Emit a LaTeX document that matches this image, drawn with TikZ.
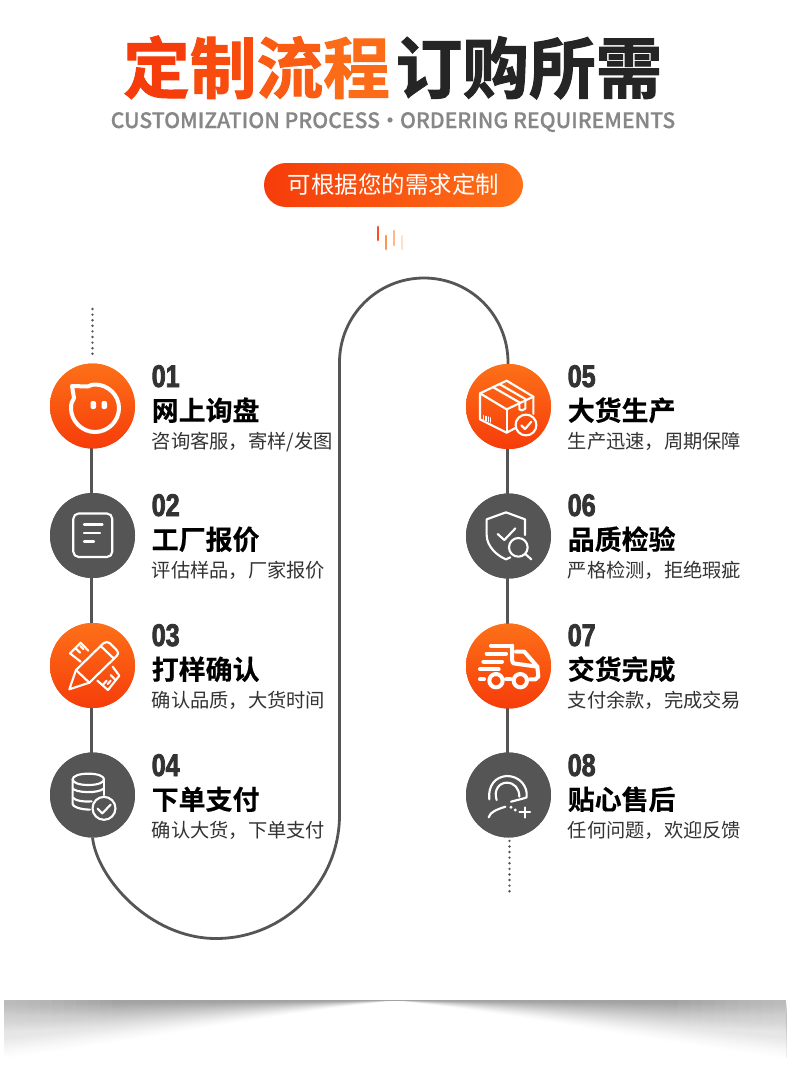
\documentclass[tikz,border=0pt]{standalone}
\usepackage{fontspec}
\setmainfont{Noto Sans CJK SC}
\newfontfamily\cjk{Noto Sans CJK SC}
\newfontfamily\cjktitle[FakeBold=1.5]{Noto Sans CJK SC Bold}
\newfontfamily\cjkhead[FakeBold=0.4]{Noto Sans CJK SC Bold}
\newfontfamily\subf[FakeBold=0.5]{Noto Sans CJK SC Medium}
\newfontfamily\numf[FakeStretch=0.8,FakeBold=2.5]{Liberation Sans Bold}
\definecolor{ordark}{HTML}{F63C0A}
\definecolor{orlight}{HTML}{FD7018}
\definecolor{ink}{HTML}{252525}
\definecolor{node}{HTML}{555555}
\tikzset{
  hotdisc/.style={circle,minimum size=63.75pt,inner sep=0pt,outer sep=0pt,top color=orlight,bottom color=ordark},
  darkdisc/.style={circle,minimum size=63.75pt,inner sep=0pt,outer sep=0pt,fill=node},
  snake/.style={draw=node,line width=2.1pt},
  dots/.style={draw=node,line width=2pt,line cap=round,dash pattern=on 0pt off 4.2pt},
  ic/.style={draw=white,line width=1.6pt,line cap=round,line join=round},
  icthick/.style={draw=white,line width=3pt,line cap=round,line join=round},
  zoomed/.style={x=0.25pt,y=-0.25pt},
  numtext/.style={anchor=base west,inner sep=0pt,text=black!80,font=\numf\fontsize{23.5}{25}\selectfont},
  headtext/.style={anchor=base west,inner sep=0pt,text=black,font=\cjkhead\fontsize{20.2}{22}\selectfont},
  subtext/.style={anchor=base west,inner sep=0pt,text=black!80,font=\cjk\fontsize{14.45}{16}\selectfont},
}
\newcommand{\rowtext}[6]{%
  \node[numtext] (n#1) at (#2,#3-19) {#4};
  \node[headtext] (h#1) at (#2,#3+14.5) {#5};
  \node[subtext] (s#1) at (#2,#3+42) {#6};
}
\begin{document}
\begin{tikzpicture}[x=0.75pt,y=-0.75pt]
\useasboundingbox (0,0) rectangle (790,1076);
\fill[white] (0,0) rectangle (790,1076);

% heading
\node[anchor=base,inner sep=0pt,font=\cjktitle\fontsize{50}{52}\selectfont] (tA) at (256.5,93) {\textcolor[HTML]{F63C0A}{定}\textcolor[HTML]{F84C0F}{制}\textcolor[HTML]{FA5C13}{流}\textcolor[HTML]{FC6C18}{程}};
\node[anchor=base,inner sep=0pt,text=ink,font=\cjktitle\fontsize{50}{52}\selectfont] (tB) at (529,93) {订购所需};
\node[anchor=base,inner sep=0pt,text=black!47,font=\subf\fontsize{15.9}{17}\selectfont] (tC) at (393,128) {CUSTOMIZATION PROCESS\hspace{0.22em}\makebox[0.5em][c]{•}\hspace{0.22em}ORDERING REQUIREMENTS};
\node[minimum width=194.25pt,minimum height=33pt,inner sep=0pt,rounded corners=16.5pt,left color=ordark,right color=orlight,text=white,font=\cjk\fontsize{17.6}{19}\selectfont] (pill) at (393.5,185) {可根据您的需求定制};

% small bars
\draw[line width=2.2pt,line cap=round,draw=ordark!90] (378,227) -- (378,240);
\draw[line width=2.2pt,line cap=round,draw=orlight!75] (386,236) -- (386,249);
\draw[line width=2.2pt,line cap=round,draw=orlight!50] (394,231) -- (394,245);
\draw[line width=2.2pt,line cap=round,draw=orlight!22] (402,236) -- (402,249);

% discs
\node[hotdisc] (c1) at (92.5,406) {};
\node[darkdisc] (c2) at (92.5,535.5) {};
\node[hotdisc] (c3) at (92.5,665.5) {};
\node[darkdisc] (c4) at (92.5,795) {};
\node[hotdisc] (c5) at (508.5,406.5) {};
\node[darkdisc] (c6) at (508.5,536) {};
\node[hotdisc] (c7) at (508.5,666) {};
\node[darkdisc] (c8) at (508.5,795) {};

% connectors
\coordinate (a2) at (216,938.5);
\coordinate (a3) at (339.5,815);
\coordinate (a4) at (339.5,362.5);
\coordinate (a5) at (424,278);
\coordinate (a6) at (508,362.5);
\coordinate (d1) at (92.5,309);
\coordinate (d2) at (509.5,892);
\draw[snake] ([xshift=-0.6pt]c1.center) -- ([xshift=-0.6pt]c2.center);
\draw[snake] ([xshift=-0.6pt]c2.center) -- ([xshift=-0.6pt]c3.center);
\draw[snake] ([xshift=-0.6pt]c3.center) -- ([xshift=-0.6pt]c4.center);
\draw[snake] ([xshift=-0.6pt]c5.center) -- ([xshift=-0.6pt]c6.center);
\draw[snake] ([xshift=-0.6pt]c6.center) -- ([xshift=-0.6pt]c7.center);
\draw[snake] ([xshift=-0.6pt]c7.center) -- ([xshift=-0.6pt]c8.center);
\draw[snake] (c4.south) .. controls (97,878) and (150,938.5) .. (a2)
  .. controls (284,938.5) and (339.5,883) .. (a3) -- (a4)
  .. controls (339.5,316) and (377,278) .. (a5)
  .. controls (471,278) and (508,316) .. (a6) -- ([xshift=-0.6pt]c5.center);
\node[hotdisc] at (c1) {};
\node[darkdisc] at (c2) {};
\node[hotdisc] at (c3) {};
\node[darkdisc] at (c4) {};
\node[hotdisc] at (c5) {};
\node[darkdisc] at (c6) {};
\node[hotdisc] at (c7) {};
\node[darkdisc] at (c8) {};
\draw[dots] (d1) -- ([yshift=4pt]c1.north);
\draw[dots] ([xshift=0.75pt,yshift=-2.5pt]c8.south) -- (d2);

% icon 1 face
\draw[icthick] (72,386) -- (88,386.5) .. controls (91,385) and (92,384.5) .. (95,384.5)
  .. controls (108,384.5) and (119,395) .. (119,408)
  .. controls (119,421) and (108,432) .. (95,432)
  .. controls (82,432) and (71,421) .. (71,408)
  .. controls (71,404) and (72,401) .. (74,398) -- cycle;
\fill[white,rounded corners=1.5pt] (90.5,401) rectangle (96,409);
\fill[white,rounded corners=1.5pt] (101.5,401) rectangle (107,409);

% icon 2 sheet
\draw[ic,rounded corners=4pt] (73.3,513.5) rectangle (112.3,557);
\draw[ic] (84,524.5) -- (102.5,524.5);
\draw[ic] (84,533) -- (100,533);
\draw[ic] (84,541.5) -- (94,541.5);

% icon 3 pencil and ruler
\begin{scope}[shift={(40,610)},zoomed]
\draw[ic] (88,238) -- (108,180) -- (190,100) .. controls (197,94) and (205,95) .. (210,100) -- (230,120) .. controls (236,127) and (236,133) .. (230,138) -- (148,218) -- cycle;
\draw[ic] (108,180) -- (148,218);
\draw[ic] (182,108) -- (222,146);
\draw[ic] (145,122) -- (122,98) -- (90,130) -- (122,155);
\draw[ic] (108,116) -- (120,128);
\draw[ic] (121,108) -- (130,117);
\draw[ic] (218,170) -- (238,197) -- (204,240) -- (172,212);
\draw[ic] (188,225) -- (200,212);
\draw[ic] (203,222) -- (212,212);
\draw[ic] (212,195) -- (224,207);
\end{scope}

% icon 4 database
\begin{scope}[shift={(40,610)},zoomed]
\draw[ic] (145,491) .. controls (175,491) and (192,499) .. (192,508) .. controls (192,517) and (175,525) .. (145,525) .. controls (115,525) and (98,517) .. (98,508) .. controls (98,499) and (115,491) .. (145,491) -- cycle;
\draw[ic] (98,508) -- (98,582) .. controls (98,590) and (118,598) .. (150,599);
\draw[ic] (192,508) -- (192,555);
\draw[ic] (98,535) .. controls (105,548) and (175,552) .. (192,535);
\draw[ic] (98,562) .. controls (105,572) and (130,576) .. (155,574);
\draw[ic] (192,595) circle[radius=8.6pt];
\draw[ic] (173,596) -- (187,610) -- (212,584);
\end{scope}

% icon 5 box
\begin{scope}[shift={(456,350)},zoomed]
\draw[ic] (72,130) -- (152,92) -- (232,140) -- (232,192);
\draw[ic] (72,130) -- (152,178) -- (232,140);
\draw[ic] (72,130) -- (72,208) -- (152,248) -- (180,233);
\draw[ic] (152,178) -- (152,248);
\draw[ic] (112,112) -- (190,157) -- (190,178) -- (198,181) -- (208,176) -- (208,147) -- (130,102);
\draw[ic,line width=0.9pt] (83,197) -- (83,210);
\draw[ic,line width=0.9pt] (90,199) -- (90,212);
\draw[ic,line width=0.9pt] (97,201) -- (97,214);
\draw[ic,line width=0.9pt] (103,203) -- (103,216);
\draw[ic] (210,225) circle[radius=7.8pt];
\draw[ic] (196,226) -- (207,237) -- (226,215);
\end{scope}

% icon 6 shield
\begin{scope}[shift={(456,350)},zoomed]
\draw[ic] (207,555) -- (207,508) -- (150,487) -- (92,508) -- (92,555) .. controls (92,590) and (125,618) .. (150,628) -- (163,622);
\draw[ic] (125,552) -- (145,570) -- (178,535);
\draw[ic] (187,592) circle[radius=7pt];
\draw[ic] (208,612) -- (226,628);
\end{scope}

% icon 7 truck
\begin{scope}[shift={(456,610)},zoomed]
\draw[icthick] (105,107) -- (168,107);
\draw[icthick] (168,107) -- (168,150) -- (172,160) -- (244,170);
\draw[icthick] (180,125) -- (205,125) -- (244,170) -- (247,200) -- (238,208) -- (222,208);
\draw[icthick] (92,131) -- (150,131);
\draw[icthick] (82,155) -- (138,155);
\draw[icthick] (72,178) -- (128,178);
\draw[icthick] (72,208) -- (84,208);
\draw[icthick] (150,208) -- (164,208);
\draw[icthick] (120,212) circle[radius=5pt];
\draw[icthick] (193,212) circle[radius=5pt];
\end{scope}

% icon 8 agent
\begin{scope}[shift={(456,610)},zoomed]
\draw[ic] (100,568) .. controls (95,525) and (120,500) .. (152,498) .. controls (185,498) and (208,520) .. (212,548) -- (212,562) -- (200,566) -- (165,575);
\draw[ic] (122,570) .. controls (112,540) and (130,518) .. (152,518) .. controls (175,518) and (190,535) .. (190,560);
\draw[ic] (98,622) .. controls (102,605) and (125,598) .. (148,590);
\fill[white] (165,592) circle[radius=1.2pt];
\fill[white] (178,600) circle[radius=1.2pt];
\draw[ic] (206,592) -- (206,623);
\draw[ic] (190,607) -- (222,607);
\end{scope}

% labels
\rowtext{1}{151.5}{406}{01}{网上询盘}{咨询客服，寄样/发图}
\rowtext{2}{151.5}{535}{02}{工厂报价}{评估样品，厂家报价}
\rowtext{3}{151.5}{665}{03}{打样确认}{确认品质，大货时间}
\rowtext{4}{151.5}{795}{04}{下单支付}{确认大货，下单支付}
\rowtext{5}{567.5}{406}{05}{大货生产}{生产迅速，周期保障}
\rowtext{6}{567.5}{535}{06}{品质检验}{严格检测，拒绝瑕疵}
\rowtext{7}{567.5}{665}{07}{交货完成}{支付余款，完成交易}
\rowtext{8}{567.5}{795}{08}{贴心售后}{任何问题，欢迎反馈}

% bottom shadow
\begin{scope}
\clip (4,1000) rectangle (786,1070);
\fill[black!36] (4,1000) rectangle (786,1060);
\foreach \t in {0,1,...,50}{
  \pgfmathsetmacro{\ye}{1003+\t*1.12}
  \pgfmathsetmacro{\ya}{1001+0.22*(\ye-1001)}
  \pgfmathsetmacro{\yb}{1001+0.72*(\ye-1001)}
  \pgfmathsetmacro{\lev}{36*(1-\t/50)^1.4}
  \fill[black!\lev!white] (395,1001) .. controls (270,\ya) and (130,\yb) .. (4,\ye)
    -- (4,1066) -- (786,1066) -- (786,\ye)
    .. controls (660,\yb) and (520,\ya) .. (395,1001) -- cycle;
}
\foreach \w in {12,24,...,108}{
  \fill[white,opacity=0.04] (4,1000) rectangle (4+\w,1060);
  \fill[white,opacity=0.04] (786-\w,1000) rectangle (786,1060);
}
\end{scope}
\fill[white] (0,1058) rectangle (790,1076);
\end{tikzpicture}
\end{document}
